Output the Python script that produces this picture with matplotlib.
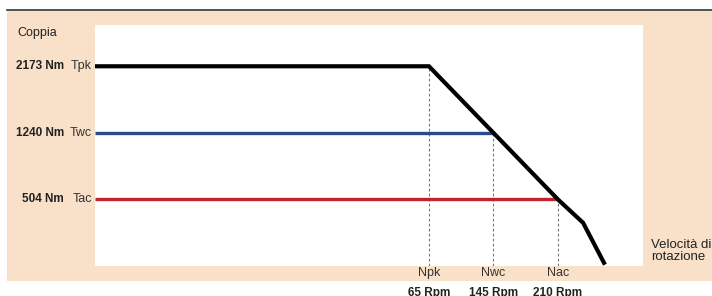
import matplotlib
matplotlib.use("Agg")
from matplotlib import pyplot as plt
from matplotlib import font_manager
from matplotlib.patches import Rectangle

# dati (schema: posizioni a livelli, non in scala)
torque_names = ["Tpk", "Twc", "Tac"]
torque_values = ["2173 Nm", "1240 Nm", "504 Nm"]
torque_level = [3, 2, 1]
torque_colors = ["#000000", "#2b4a8c", "#c3232c"]

speed_names = ["Npk", "Nwc", "Nac"]
speed_values = ["65 Rpm", "145 Rpm", "210 Rpm"]
speed_level = [1, 2, 3]

# curva della coppia oltre Nac
tail_x = [3.39, 3.73]
tail_y = [0.65, 0.02]

W, H = 712, 296
names = {f.name for f in font_manager.fontManager.ttflist}
if "Liberation Sans Narrow" in names:
    FONT = ["Liberation Sans Narrow", "DejaVu Sans"]
    fs = 10.5
else:
    FONT = ["Liberation Sans", "DejaVu Sans"]
    fs = 8.5
peach = "#f9e1c9"

def fx(px):
    return px / W

def fy(py):
    return 1 - py / H

fig = plt.figure(figsize=(W / 100, H / 100), dpi=100)
fig.patch.set_facecolor("white")

# sfondo e linea in alto
bg = Rectangle((fx(7), fy(281)), fx(712) - fx(7), fy(11) - fy(281),
               transform=fig.transFigure, facecolor=peach, edgecolor="none", zorder=-10)
fig.add_artist(bg)
fig.add_artist(plt.Line2D([fx(7), 1], [fy(10), fy(10)], color="#333333", lw=1.2, transform=fig.transFigure))

ax = fig.add_axes([fx(95), fy(266), fx(643) - fx(95), fy(25) - fy(266)])
ax.set_facecolor("white")
ax.set_xlim(-4.18, 4.32)
ax.set_ylim(0, 3.62)
for s in ax.spines.values():
    s.set_visible(False)
ax.set_xticks([])
ax.set_yticks([])

x0 = ax.get_xlim()[0]
# livelli orizzontali blu e rosso
for lev, sp, col in zip(torque_level[1:], speed_level[1:], torque_colors[1:]):
    ax.plot([x0, sp], [lev, lev], color=col, lw=2.4, solid_capstyle="butt", zorder=2)

# tratteggi verticali
ax.vlines(speed_level, 0, torque_level, colors="#777777", linestyles=(0, (2.5, 2)), lw=0.8, zorder=1)

# curva nera
cx = [x0] + speed_level + tail_x
cy = [torque_level[0]] + torque_level + tail_y
ax.plot(cx, cy, color="black", lw=3, solid_joinstyle="miter", solid_capstyle="butt", zorder=3, clip_on=False)

# testi
fig.text(fx(17), fy(33), "Coppia", family=FONT, fontsize=fs + 0.5, va="center", ha="left", color="#222222")
for lev, val, name in zip(torque_level, torque_values, torque_names):
    py = 266 - lev * (241 / 3.62)
    fig.text(fx(64), fy(py), val, family=FONT, fontsize=fs, fontweight="bold", ha="right", va="center", color="#222222")
    fig.text(fx(92), fy(py), name, family=FONT, fontsize=fs + 0.5, ha="right", va="center", color="#333333")

for lev, name, val in zip(speed_level, speed_names, speed_values):
    px = 95 + (lev - x0) * (548 / (4.32 - x0))
    fig.text(fx(px), fy(273), name, family=FONT, fontsize=fs + 0.5, ha="center", va="center", color="#333333")
    fig.text(fx(px), fy(287), val, family=FONT, fontsize=fs, fontweight="bold", ha="center", va="top", color="#222222")

fig.text(fx(651), fy(251), "Velocità di\nrotazione", family=FONT, fontsize=fs + 1, ha="left", va="center",
         color="#222222", linespacing=0.9)

fig.savefig("out.png", dpi=100)
